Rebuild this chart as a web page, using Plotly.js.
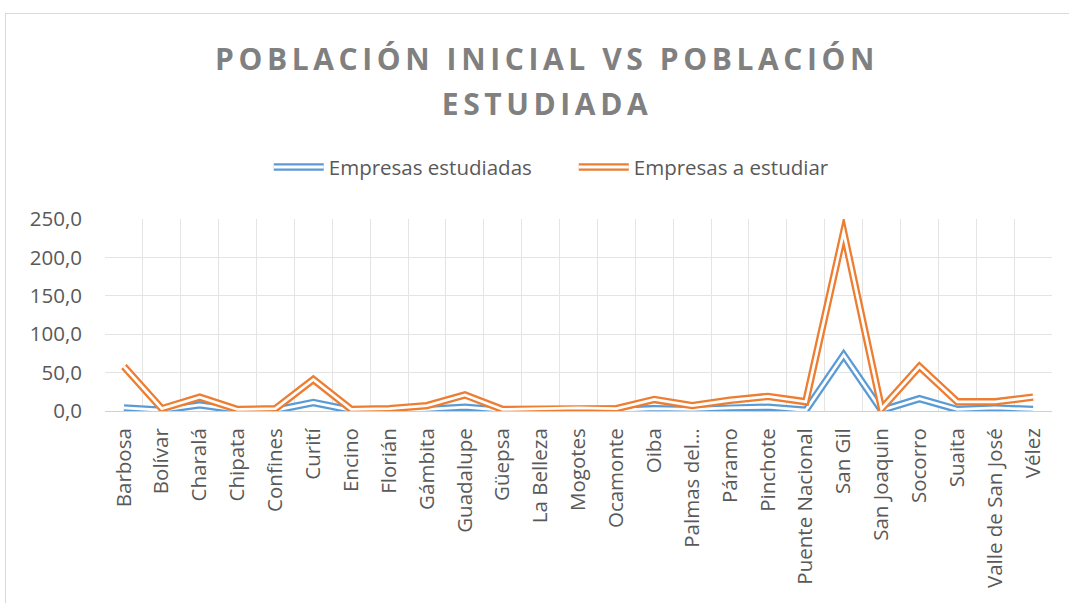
<!DOCTYPE html>
<html><head><meta charset="utf-8">
<script src="https://cdn.plot.ly/plotly-3.0.1.min.js"></script>
<style>
html,body{margin:0;padding:0;background:#fff;overflow:hidden;width:1069px;height:603px;}
#chart{position:absolute;left:0;top:0;width:1069px;height:603px;}
#frame{position:absolute;left:5px;top:13px;width:1200px;height:800px;border:1px solid #d9d9d9;pointer-events:none;}
.gtitle{letter-spacing:4.6px;}
.scatterlayer path.js-line{stroke-linejoin:miter;stroke-miterlimit:12;}
</style></head><body>
<div id="chart"></div><div id="frame"></div>
<script>
const municipios = ["Barbosa","Bolívar","Charalá","Chipata","Confines","Curití","Encino","Florián","Gámbita","Guadalupe","Güepsa","La Belleza","Mogotes","Ocamonte","Oiba","Palmas del…","Páramo","Pinchote","Puente Nacional","San Gil","San Joaquin","Socorro","Suaita","Valle de San José","Vélez"];
const empresasEstudiadas = [4,1,8,1,1,11,1,1,2,5,1,1,2,1,3,2,4,5,1,73,1,16,2,4,2];
const empresasAEstudiar = [58,3,18,2,3,41,2,3,7,21,2,3,4,3,15,7,14,19,12,233,3,58,12,12,18];
const seriesNames = ["Empresas estudiadas","Empresas a estudiar"];
const seriesColors = ["#5B9BD5","#ED7D31"];
const titleLines = ["POBLACIÓN INICIAL VS POBLACIÓN","ESTUDIADA"];

const FONT = "Open Sans, sans-serif";
const outerW = 7.4, innerW = 2.8;
const traces = [];
[empresasEstudiadas, empresasAEstudiar].forEach((vals, i) => {
  traces.push({type:"scatter", mode:"lines", x:municipios, y:vals, name:seriesNames[i],
    line:{color:seriesColors[i], width:outerW}, legendgroup:"g"+i});
  traces.push({type:"scatter", mode:"lines", x:municipios, y:vals, showlegend:false,
    hoverinfo:"skip", line:{color:"#ffffff", width:innerW}, legendgroup:"g"+i});
});

// the outer font size only sets the line spacing (1.3em); glyphs are drawn at 30px
const titleText = titleLines.map(t => '<span style="font-size:30px">' + t + '</span>').join("<br>");
const layout = {
  width:1069, height:603,
  paper_bgcolor:"rgba(0,0,0,0)", plot_bgcolor:"rgba(0,0,0,0)",
  separators:",.",
  margin:{l:105, r:17, t:219, b:192},
  font:{family:FONT, color:"#595959", size:20.5},
  title:{text:titleText, x:547/1069, xanchor:"center",
    yref:"container", y:1-70/603, yanchor:"top",
    font:{family:FONT, size:34.6, color:"#808080", weight:"bold"}},
  showlegend:true,
  legend:{orientation:"h", x:0.495, xanchor:"center", y:1.27, yanchor:"middle",
    font:{family:FONT, size:20.5, color:"#595959"}, itemwidth:50, entrywidth:240,
    bgcolor:"rgba(0,0,0,0)"},
  xaxis:{type:"category", range:[-0.5, 24.5], tickson:"boundaries", showgrid:true,
    gridcolor:"#e4e4e4", gridwidth:1, ticks:"", tickangle:-90, ticklabelstandoff:8,
    showline:true, linecolor:"#d0d0d0", linewidth:1, zeroline:false,
    tickfont:{family:FONT, size:20.5, color:"#595959"}, fixedrange:true},
  yaxis:{range:[0,250], dtick:50, tick0:0, tickformat:".1f", showgrid:true,
    gridcolor:"#e4e4e4", gridwidth:1, ticks:"", ticklabelstandoff:22, zeroline:false,
    showline:false, tickfont:{family:FONT, size:20.5, color:"#595959"}, fixedrange:true}
};
Plotly.newPlot("chart", traces, layout, {displayModeBar:false, staticPlot:true}).then(gd => {
  // give legend line samples the same double-line look as the plotted series
  gd.querySelectorAll(".legend .legendlines path.js-line").forEach(p => {
    const c = p.cloneNode(true);
    c.style.stroke = "#ffffff";
    c.style.strokeWidth = innerW + "px";
    p.parentNode.appendChild(c);
  });
});
</script>
</body></html>
